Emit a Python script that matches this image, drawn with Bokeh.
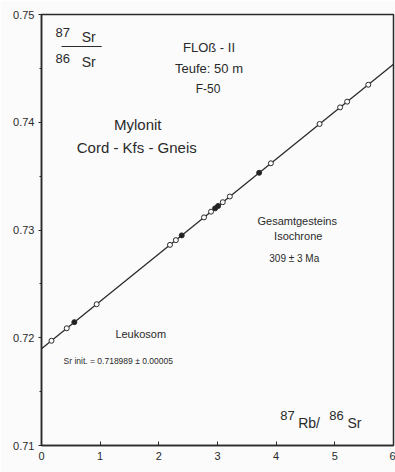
import math
from bokeh.plotting import figure
from bokeh.models import FixedTicker, Range1d, ColumnDataSource
from bokeh.core.properties import value
from bokeh.embed import file_html
from bokeh.resources import INLINE

# ---- data ----
rb_sr = [0.17, 0.43, 0.56, 0.94, 2.19, 2.29, 2.39, 2.77, 2.89, 2.96, 3.01, 3.09, 3.21, 3.71, 3.91, 4.74, 5.09, 5.21, 5.57]
sr_sr = [0.71972, 0.72088, 0.72145, 0.72311, 0.72862, 0.72906, 0.72950, 0.73117, 0.73170, 0.73201, 0.73223, 0.73258, 0.73311, 0.73531, 0.73619, 0.73984, 0.74138, 0.74191, 0.74348]
filled = [False, False, True, False, False, False, True, False, False, True, True, False, False, True, False, False, False, False, False]
sr_initial = 0.718989
age_ma = 309
x_ticks = [0, 1, 2, 3, 4, 5, 6]
y_ticks = [0.71, 0.72, 0.73, 0.74, 0.75]
y_tick_labels = ["0.71", "0.72", "0.73", "0.74", "0.75"]

lam = 1.42e-11
slope = math.exp(lam * age_ma * 1e6) - 1.0

FONT = "Liberation Sans"
INK = "#2a2a2a"
BG = "#fbfbfb"

p = figure(width=395, height=472, output_backend="svg", toolbar_location=None,
           x_range=Range1d(0, 6), y_range=Range1d(0.71, 0.75),
           min_border_left=41, min_border_right=2, min_border_top=14, min_border_bottom=27,
           background_fill_color=BG, border_fill_color=BG)
p.frame_width = 352
p.frame_height = 431
p.grid.visible = False
p.outline_line_color = INK
p.outline_line_width = 1.5

p.xaxis.ticker = FixedTicker(ticks=x_ticks)
p.yaxis.ticker = FixedTicker(ticks=y_ticks, minor_ticks=[0.715, 0.725, 0.735, 0.745])
p.yaxis.major_label_overrides = {t: l for t, l in zip(y_ticks, y_tick_labels)}
for ax in (p.xaxis, p.yaxis):
    ax.axis_line_color = INK
    ax.axis_line_width = 1.5
    ax.major_tick_line_color = INK
    ax.minor_tick_line_color = INK
    ax.major_label_text_font = FONT
    ax.major_label_text_font_size = "11px"
    ax.major_label_text_color = INK
p.xaxis.major_tick_in = 4
p.xaxis.major_tick_out = 0
p.xaxis.minor_tick_line_color = None
p.xaxis.major_label_standoff = 6
p.yaxis.major_tick_in = 0
p.yaxis.major_tick_out = 3
p.yaxis.minor_tick_in = 0
p.yaxis.minor_tick_out = 2
p.yaxis.major_label_standoff = 4

# isochrone
p.line([0, 6], [sr_initial, sr_initial + slope * 6], line_color=INK, line_width=1.3)

src = ColumnDataSource(dict(x=rb_sr, y=sr_sr,
                            fc=["#222222" if f else BG for f in filled]))
p.scatter("x", "y", source=src, size=5, fill_color="fc", line_color=INK, line_width=1)

def txt(x, y, s, size, align="center"):
    p.text([x], [y], text=[s], text_font=value(FONT), text_font_size=size,
           text_color=INK, text_align=align, text_baseline="middle")

# y-axis label as fraction
txt(0.239, 0.74833, "87", "13px", "left")
txt(0.684, 0.74787, "Sr", "14px", "left")
txt(0.239, 0.74592, "86", "13px", "left")
txt(0.684, 0.74555, "Sr", "14px", "left")
p.segment([0.342], [0.74703], [1.026], [0.74703], line_color=INK, line_width=1.2)

txt(2.855, 0.74694, "FLOß - II", "13px")
txt(2.855, 0.74499, "Teufe: 50 m", "13px")
txt(2.838, 0.74304, "F-50", "12px")
txt(1.641, 0.73979, "Mylonit", "15px")
txt(1.624, 0.73766, "Cord - Kfs - Gneis", "15px")
txt(4.359, 0.73088, "Gesamtgesteins", "11px")
txt(4.376, 0.72940, "Isochrone", "11px")
txt(4.308, 0.72736, "309 ± 3 Ma", "10px")
txt(1.692, 0.72039, "Leukosom", "11px")
txt(1.308, 0.71780, "Sr init. = 0.718989 ± 0.00005", "8.5px")

# x-axis label
txt(4.068, 0.71278, "87", "13px", "left")
txt(4.376, 0.71209, "Rb/", "14px", "left")
txt(4.906, 0.71278, "86", "13px", "left")
txt(5.214, 0.71209, "Sr", "14px", "left")

open("out.html", "w").write(file_html(p, INLINE))
